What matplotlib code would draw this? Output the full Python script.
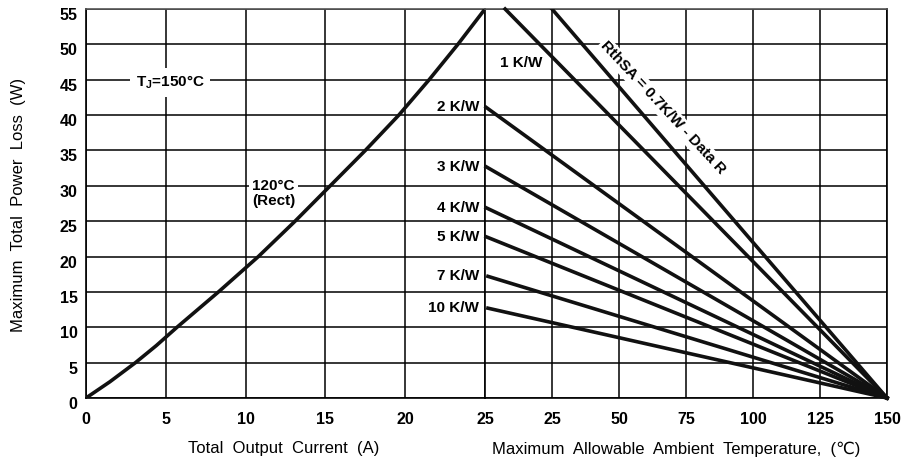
import matplotlib as mpl
mpl.use('agg')
import matplotlib.pyplot as plt
import matplotlib.transforms as mtransforms

plt.rcParams['font.family'] = ['Liberation Sans', 'DejaVu Sans']
plt.rcParams['mathtext.fontset'] = 'custom'
plt.rcParams['mathtext.rm'] = 'Liberation Sans'
plt.rcParams['mathtext.bf'] = 'Liberation Sans:bold'

# left panel: power loss vs total output current, 120C rect curve
current = [0, 1.5, 3.1, 4.4, 5.7, 8.3, 10.8, 13.1, 15.3, 17.5, 19.6, 21.5, 23.3, 25.0]
power_loss = [0, 2.3, 5, 7.4, 10, 15, 20, 25, 30, 35, 40, 45, 50, 55]

# right panel: derating lines, one per heatsink thermal resistance
rth_names = ['1 K/W', '2 K/W', '3 K/W', '4 K/W', '5 K/W', '7 K/W', '10 K/W']
rth_start_temp = [7.5, 0.4, 0.4, 0.4, 0.4, 1.1, 1.1]
rth_start_power = [55, 41.1, 32.7, 26.9, 22.8, 17.2, 12.7]
data_r_start = (25, 55)
t_end, p_end = 150, 0

left_ticks = [0, 5, 10, 15, 20, 25]
right_ticks = [25, 50, 75, 100, 125, 150]
y_ticks = [0, 5, 10, 15, 20, 25, 30, 35, 40, 45, 50, 55]

W, H = 901, 462
fig = plt.figure(figsize=(W / 100, H / 100), dpi=100)
bottom, height = (H - 398) / H, 389 / H
axL = fig.add_axes([86 / W, bottom, (485 - 86) / W, height])
axR = fig.add_axes([485 / W, bottom, (887 - 485) / W, height], sharey=axL)
axR.patch.set_alpha(0)

for ax in (axL, axR):
    ax.grid(True, color='black', lw=1.1, zorder=0.5)
    ax.set_axisbelow(True)
    for s in ax.spines.values():
        s.set_linewidth(1.2)
        s.set_color('black')
    ax.spines['top'].set_color('#555555')
    ax.tick_params(length=0, labelsize=11.5, pad=10, axis='x')
    ax.tick_params(length=0, axis='y')

axL.set_xlim(0, 25)
axL.set_ylim(0, 55)
axL.set_xticks(left_ticks)
axL.set_xticklabels([str(t) for t in left_ticks], fontweight='bold')
axL.set_yticks(y_ticks)
axL.set_yticklabels([str(t) for t in y_ticks], fontweight='bold', fontsize=11.5)
axL.tick_params(axis='y', pad=6)
off = mtransforms.ScaledTranslation(0, -0.05, fig.dpi_scale_trans)
for lab in axL.get_yticklabels():
    lab.set_transform(lab.get_transform() + off)

axR.set_xlim(0, 150)
axR.set_xticks(right_ticks)
axR.set_xticklabels([str(t) for t in right_ticks], fontweight='bold')
axR.tick_params(axis='y', labelleft=False)
axR.spines['left'].set_visible(False)

axL.plot(current, power_loss, color='#111111', lw=2.6, zorder=5, solid_joinstyle='round')

axR.plot([data_r_start[0], t_end], [data_r_start[1], p_end], color='#111111', lw=2.6, zorder=5)
for t0, p0 in zip(rth_start_temp, rth_start_power):
    axR.plot([t0, t_end], [p0, p_end], color='#111111', lw=2.6, zorder=5, clip_on=False)

box = dict(facecolor='white', edgecolor='none', pad=1.5)
lab_kw = dict(fontsize=11, fontweight='bold', zorder=4)

# heatsink labels sit just left of the panel boundary
for name, p0 in list(zip(rth_names, rth_start_power))[1:]:
    axL.text(24.62, p0, name, ha='right', va='center', clip_on=False, **lab_kw)
axR.text(13.4, 47.4, rth_names[0], ha='center', va='center', bbox=box, **lab_kw)

axR.text(66.4, 41.0, 'RthSA = 0.7K/W - Data R', rotation=-47, rotation_mode='anchor',
         ha='center', va='center', bbox=box, **lab_kw)

axL.text(5.26, 44.6, r'T$_\mathbf{J}$=150°C', ha='center', va='center',
         bbox=dict(facecolor='white', edgecolor='none', pad=4), **lab_kw)
axL.text(10.4, 28.9, '120°C\n(Rect)', ha='left', va='center', multialignment='left',
         linespacing=1.15, bbox=dict(facecolor='white', edgecolor='none', pad=2), **lab_kw)

fig.text(284 / W, 1 - 449 / H, 'Total  Output  Current  (A)', ha='center', va='center',
         fontsize=12)
fig.text(676 / W, 1 - 449 / H, 'Maximum  Allowable  Ambient  Temperature,  (℃)',
         ha='center', va='center', fontsize=12)
fig.text(19 / W, 1 - 205 / H, 'Maximum  Total  Power  Loss  (W)', ha='center', va='center',
         rotation=90, fontsize=12)

fig.savefig('out.png', dpi=100, facecolor='white')
